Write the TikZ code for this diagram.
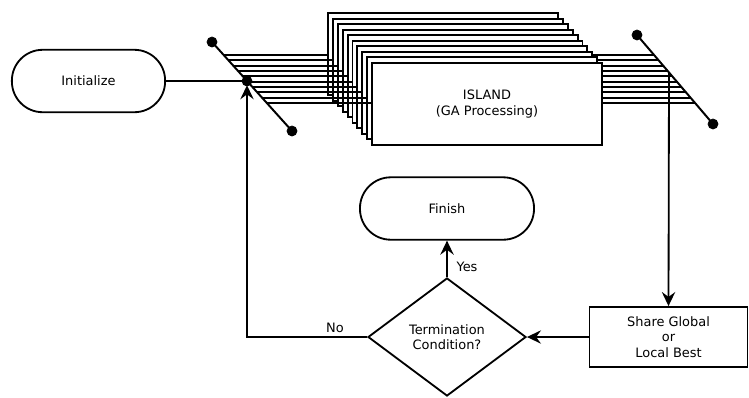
\documentclass[tikz,border=0pt]{standalone}
\usepackage{fontspec}
\setmainfont{DejaVu Sans}
\usetikzlibrary{shapes.geometric,arrows.meta}

\begin{document}
\begin{tikzpicture}[x=0.025cm, y=-0.025cm,
  every node/.style={font=\fontsize{9.2}{11}\selectfont},
  term/.style={draw, line width=1.3pt, rounded corners=0.77cm, minimum height=1.56cm, align=center},
  cond/.style={draw, diamond, line width=1.3pt, minimum width=3.95cm, minimum height=2.95cm, align=center, inner sep=0pt},
  proc/.style={draw, line width=1.3pt, minimum width=3.95cm, minimum height=1.5cm, align=center},
  islandbox/.style={draw, fill=white, line width=1.4pt, minimum width=5.75cm, minimum height=2.05cm, align=center},
  wire/.style={line width=1.4pt},
  flow/.style={line width=1.3pt, -{Stealth[length=10pt, width=9.5pt, inset=3.5pt]}}]

\useasboundingbox (0,0) rectangle (749,397);

%% switches
\coordinate (swA) at (212, 42);
\coordinate (swB) at (292, 131);
\coordinate (swC) at (637, 35);
\coordinate (swD) at (713, 124);
\coordinate (sl) at (247, 81);
\coordinate (sr) at (669, 72.5);

%% lines behind the islands
\foreach \i in {0,...,9} {
  \pgfmathsetmacro\ly{55+5.33*\i}
  \pgfmathsetmacro\lx{637+(\ly-35)/1.171}
  \draw[wire] (565, \ly) -- (\lx, \ly);
}

%% islands
\foreach \i in {0,...,8} {
  \pgfmathsetmacro\bx{328+4.9*\i}
  \pgfmathsetmacro\by{13+5.55*\i}
  \draw[wire, fill=white] (\bx, \by) rectangle ++(230, 82);
}
\node[islandbox] (island) at (487, 104) {ISLAND\\(GA Processing)};

%% lines in front of the islands
\foreach \i in {0,...,9} {
  \pgfmathsetmacro\ly{55+5.33*\i}
  \pgfmathsetmacro\lx{212+(\ly-42)/1.1125}
  \pgfmathsetmacro\rx{328+4.9*\i}
  \draw[wire] (\lx, \ly) -- (\rx, \ly);
}

%% blocks
\node[term, minimum width=3.83cm] (init) at (88.5, 81) {Initialize};
\node[term, minimum width=4.35cm] (finish) at (447, 208.5) {Finish};
\node[cond] (test) at (447, 337) {Termination\\Condition?};
\node[proc] (share) at (668.5, 337) {Share Global\\or\\Local Best};

%%% edges
\draw[line width=0.8pt] (init.east) -- (sl);
\draw[flow, shorten >=3pt] (test.west) -| (sl);
\draw[flow] (sr) -- (share.north);
\draw[flow] (share.west) -- (test.east);
\draw[flow] (test.north) -- (finish.south);

\node (yes) at (467, 267) {Yes};
\node (no) at (335, 328) {No};

\draw[line width=1.4pt] (swA) -- (swB);
\draw[line width=1.4pt] (swC) -- (swD);
\draw[fill=black] (swA) circle (3.6pt);
\draw[fill=black] (swB) circle (3.6pt);
\draw[fill=black] (swC) circle (3.6pt);
\draw[fill=black] (swD) circle (3.6pt);
\draw[fill=black] (sl) circle (3.6pt);

\end{tikzpicture}
\end{document}
